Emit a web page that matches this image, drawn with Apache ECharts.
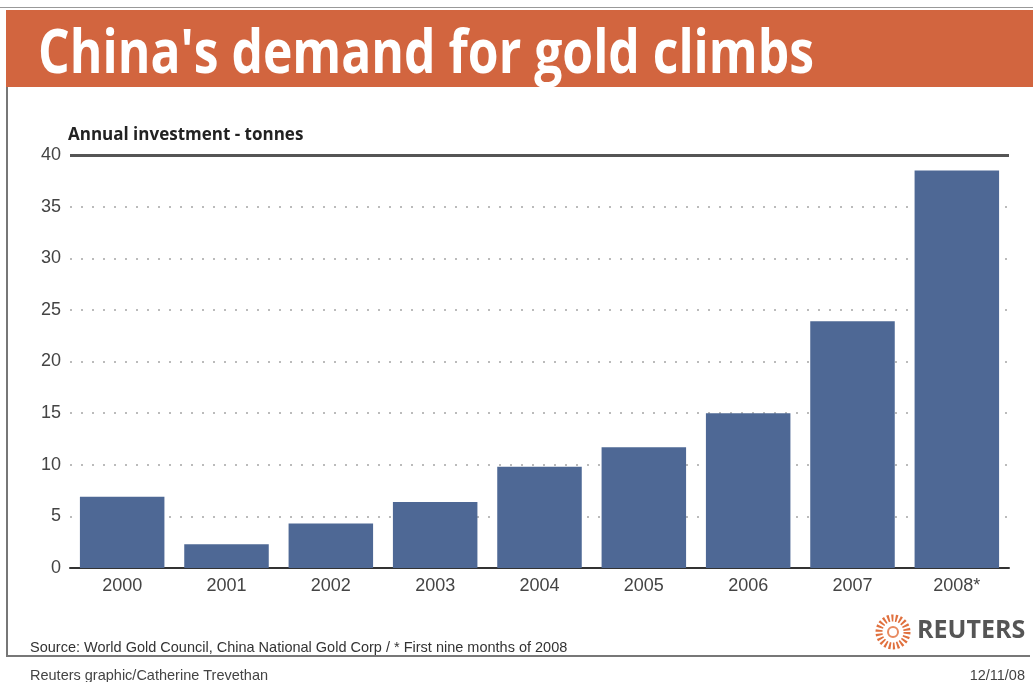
<!DOCTYPE html>
<html><head><meta charset="utf-8">
<script src="https://cdn.jsdelivr.net/npm/echarts@6/dist/echarts.min.js"></script>
<style>html,body{margin:0;padding:0;background:#fff}#c{width:1033px;height:682px}</style>
</head><body><div id="c"></div>
<script>
var categories = ['2000','2001','2002','2003','2004','2005','2006','2007','2008*'];
var values = [6.9, 2.3, 4.3, 6.4, 9.8, 11.7, 15.0, 23.9, 38.5];
var yTicks = [0,5,10,15,20,25,30,35,40];

var chart = echarts.init(document.getElementById('c'));
var option = {
  animation: false,
  backgroundColor: '#fff',
  grid: {left: 70, right: 24, top: 155, bottom: 114},
  xAxis: {
    type: 'category', data: categories,
    axisLine: {show: true, lineStyle: {color: '#333', width: 2}},
    axisTick: {show: false},
    axisLabel: {color: '#444', fontSize: 18, fontFamily: 'Liberation Sans', margin: 9}
  },
  yAxis: {
    type: 'value', min: 0, max: 40, interval: 5,
    axisLine: {show: false}, axisTick: {show: false},
    axisLabel: {color: '#444', fontSize: 18, fontFamily: 'Liberation Sans', margin: 9,
      formatter: function(v){ return yTicks.indexOf(v) >= 0 ? String(v) : ''; }},
    splitLine: {show: true, lineStyle: {color: '#bbb', type: [2, 9], width: 2}}
  },
  series: [{
    type: 'bar', data: values, barCategoryGap: '19%',
    itemStyle: {color: '#4E6895'},
    markLine: {
      silent: true, symbol: 'none', label: {show: false},
      lineStyle: {color: '#555', width: 3, type: 'solid'},
      data: [{yAxis: 40}]
    }
  }],
  graphic: [
    {type: 'rect', shape: {x: 0, y: 7, width: 1033, height: 1}, style: {fill: '#999'}},
    {type: 'rect', shape: {x: 6, y: 10, width: 1027, height: 77}, style: {fill: '#D2653F'}},
    {type: 'text', x: 38, y: 56, scaleX: 0.83, style: {x: 0, y: 0, text: "China's demand for gold climbs", fill: '#fff',
      font: 'bold 60px "Open Sans"', verticalAlign: 'middle'}},
    {type: 'rect', shape: {x: 6, y: 87, width: 2, height: 569}, style: {fill: '#777'}},
    {type: 'rect', shape: {x: 6, y: 655, width: 1024, height: 2}, style: {fill: '#777'}},
    {type: 'text', left: 68, top: 127, style: {text: 'Annual investment - tonnes', fill: '#222',
      font: 'bold 17px "Open Sans"'}},
    {type: 'text', left: 30, top: 640, style: {text: 'Source: World Gold Council, China National Gold Corp / * First nine months of 2008',
      fill: '#333', font: '14.5px "Liberation Sans"'}},
    {type: 'text', left: 30, top: 668, style: {text: 'Reuters graphic/Catherine Trevethan',
      fill: '#444', font: '14.5px "Liberation Sans"'}},
    {type: 'text', right: 8, top: 668, style: {text: '12/11/08', fill: '#444', font: '14.5px "Liberation Sans"'}},
    {type: 'circle', shape: {cx: 893, cy: 632, r: 14}, style: {fill: 'none', stroke: '#E0703E', lineWidth: 7, lineDash: [2, 2]}},
    {type: 'circle', shape: {cx: 893, cy: 632, r: 5}, style: {fill: '#fff', stroke: '#E88A60', lineWidth: 2}},
    {type: 'text', left: 917, top: 618, style: {text: 'REUTERS', fill: '#555', font: 'bold 25px "Open Sans"'}}
  ]
};
chart.setOption(option);
</script></body></html>
